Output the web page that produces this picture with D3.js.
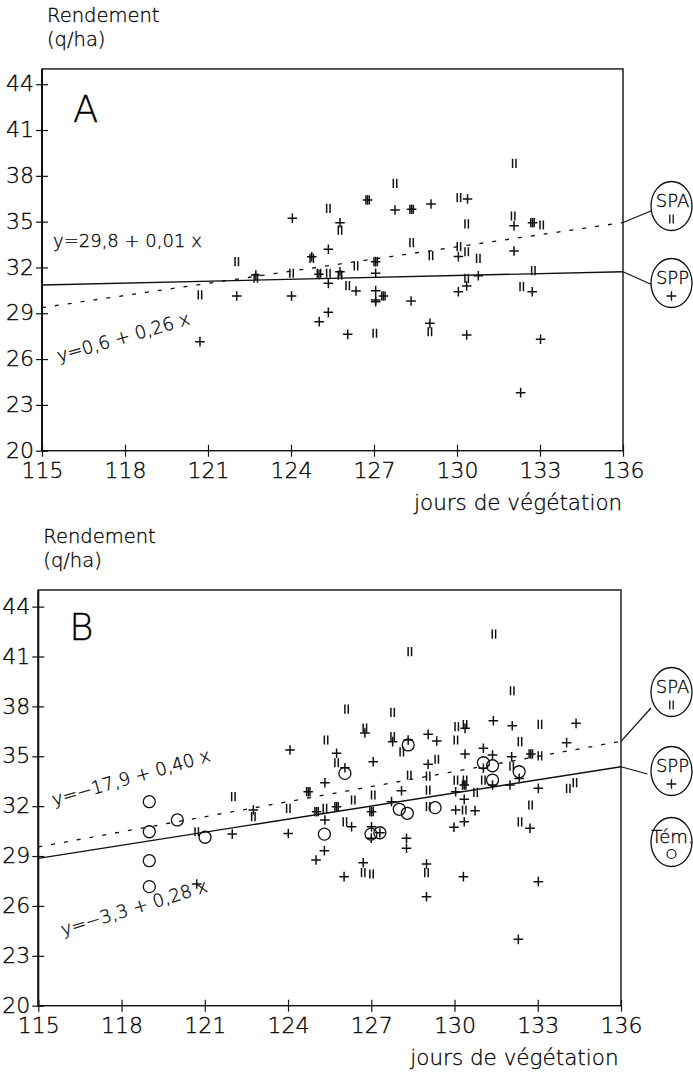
<!DOCTYPE html>
<html>
<head>
<meta charset="utf-8">
<script src="https://cdn.jsdelivr.net/npm/d3@7/dist/d3.min.js"></script>
<style>
  html, body { margin: 0; padding: 0; background: #fff; }
  svg { display: block; }
  text { font-family: "DejaVu Sans", sans-serif; font-weight: 200; fill: #000; stroke: #000; stroke-width: 0.3px; }
</style>
</head>
<body>
<svg id="chart" width="693" height="1073"></svg>
<script>
/* global d3 */

// axis ticks, shared by both panels
var xTicks = [115, 118, 121, 124, 127, 130, 133, 136];
var yTicks = [20, 23, 26, 29, 32, 35, 38, 41, 44];

// panel A : SPP (+) and SPA (II), [jours, rendement]
var aSpp = [
  [124.05, 35.22], [126.77, 36.42], [127.76, 35.76], [128.36, 35.81], [129.06, 36.16],
  [130.38, 36.48], [125.77, 34.93], [132.06, 34.73], [132.73, 34.93], [125.35, 33.19],
  [130.05, 32.71], [132.06, 33.08], [124.75, 32.7], [127.06, 32.38], [125.77, 31.72],
  [125.35, 30.96], [125.01, 31.55], [127.06, 31.62], [130.35, 30.79], [130.77, 31.46],
  [126.35, 30.46], [127.06, 30.48], [127.34, 30.13], [127.06, 29.87], [127.06, 29.75],
  [128.34, 29.8], [130.05, 30.41], [132.72, 30.41], [125.35, 29.06], [125.02, 28.45],
  [129.02, 28.34], [126.05, 27.62], [130.35, 27.58], [133.02, 27.3], [132.3, 23.8],
  [122.73, 31.5], [122.04, 30.13], [124.02, 30.13], [120.71, 27.14]
];
var aSpa = [
  [132.07, 38.82], [127.76, 37.51], [126.77, 36.42], [125.35, 35.87], [128.36, 35.81],
  [130.07, 36.57], [125.77, 34.45], [132.03, 35.37], [132.73, 34.93], [133.06, 34.78],
  [130.35, 34.85], [128.36, 33.62], [129.06, 32.77], [130.07, 33.36], [130.35, 33.03],
  [130.77, 32.6], [124.75, 32.6], [126.35, 32.11], [127.06, 32.38], [125.77, 31.5],
  [125.35, 31.62], [125.01, 31.62], [130.35, 31.29], [132.76, 31.79], [126.05, 30.81],
  [132.34, 30.74], [129.02, 27.79], [127.03, 27.69], [122.04, 32.38], [122.73, 31.3],
  [124.02, 31.62], [120.71, 30.2], [127.34, 30.13]
];

// panel B : SPP (+), SPA (II), Tém. (o)
var bSpp = [
  [131.4, 37.14], [130.38, 36.68], [132.08, 36.84], [134.38, 36.98], [126.77, 36.4],
  [127.77, 35.88], [128.33, 35.98], [129.05, 36.32], [129.36, 35.92], [134.04, 35.82],
  [125.75, 35.18], [126.05, 34.31], [127.07, 34.67], [129.05, 34.52], [130.38, 35.14],
  [131.04, 35.48], [131.37, 35.08], [132.06, 34.97], [132.75, 35.14], [131.04, 34.28],
  [132.33, 33.67], [131.37, 33.27], [124.07, 35.38], [125.33, 33.41], [124.73, 32.87],
  [127.01, 31.67], [128.09, 32.93], [127.73, 32.27], [130.04, 32.87], [130.35, 33.27],
  [130.35, 32.41], [130.74, 31.73], [130.04, 31.77], [130.35, 31.06], [129.98, 30.73],
  [127.01, 30.76], [127.0, 30.07], [127.31, 30.4], [128.27, 30.07], [128.27, 29.47],
  [125.33, 31.17], [125.75, 31.97], [126.29, 30.76], [125.31, 29.32], [125.01, 28.76],
  [126.71, 28.6], [126.02, 27.76], [128.99, 28.52], [128.99, 26.55], [130.32, 27.76],
  [133.02, 27.46], [132.3, 23.99], [133.02, 33.07], [132.72, 30.67], [132.0, 33.27],
  [122.75, 31.77], [121.99, 30.32], [124.01, 30.36], [120.71, 27.32], [125.03, 31.67]
];
var bSpa = [
  [131.42, 42.35], [128.39, 41.29], [132.08, 38.94], [126.11, 37.84], [127.77, 37.64],
  [130.08, 36.78], [130.38, 36.9], [133.08, 36.92], [125.37, 35.98], [126.77, 36.7],
  [127.77, 36.18], [130.05, 35.98], [128.1, 35.27], [125.75, 34.61], [129.36, 34.82],
  [132.06, 34.41], [132.36, 35.88], [132.75, 35.14], [133.08, 35.02], [131.04, 33.57],
  [128.37, 33.87], [129.05, 33.81], [130.05, 33.57], [130.38, 33.57], [126.35, 32.37],
  [127.07, 32.67], [129.05, 32.97], [130.35, 33.27], [130.76, 32.83], [130.35, 31.77],
  [129.05, 31.97], [127.01, 31.67], [125.03, 31.67], [125.33, 31.87], [125.75, 31.97],
  [126.05, 31.06], [126.71, 28.0], [127.01, 27.92], [128.99, 28.0], [134.1, 33.07],
  [134.34, 33.41], [132.74, 32.07], [132.36, 31.06], [122.03, 32.57], [122.75, 31.37],
  [124.01, 31.87], [120.71, 30.46], [124.73, 32.87]
];
var bTem = [
  [128.33, 35.68], [126.05, 33.97], [131.04, 34.61], [131.37, 34.43], [132.33, 34.07],
  [131.37, 33.57], [129.3, 31.91], [128.01, 31.81], [128.3, 31.57], [126.99, 30.32],
  [127.31, 30.4], [125.31, 30.32], [119.0, 32.27], [119.0, 30.46], [119.0, 28.72],
  [119.0, 27.16], [120.01, 31.17], [121.01, 30.13]
];

// regression lines, values read at x = 115 and x = 136
var aSolid = [[115, 30.85], [136, 31.72]];
var aDashed = [[115, 29.37], [136, 34.94]];
var bSolid = [[115, 28.86], [136, 34.37]];
var bDashed = [[115, 29.55], [136, 35.9]];

var svg = d3.select('#chart');

svg.append('rect')
  .attr('width', 693)
  .attr('height', 1073)
  .attr('fill', '#fff');


function markerPath(kind) {
  if (kind === 'plus') {
    return 'M-4.8,0H4.8M0,-4.8V4.8';
  }
  // double bar "II"
  return 'M-1.7,-4.6V4.6M1.7,-4.6V4.6';
}


function drawPanel(conf) {
  var g = svg.append('g');

  var x = d3.scaleLinear().domain([115, 136]).range([conf.left, conf.right]);
  var y = d3.scaleLinear().domain([20, 45]).range([conf.bottom, conf.top]);

  // frame
  g.append('rect')
    .attr('x', conf.left)
    .attr('y', y(45))
    .attr('width', conf.right - conf.left)
    .attr('height', conf.bottom - y(45))
    .attr('fill', 'none')
    .attr('stroke', '#111')
    .attr('stroke-width', 1.4);

  g.append('line')
    .attr('x1', conf.left).attr('x2', conf.left)
    .attr('y1', y(45)).attr('y2', conf.bottom)
    .attr('stroke', '#111')
    .attr('stroke-width', 2);

  // axes with ticks crossing the frame
  var xAxis = d3.axisBottom(x).tickValues(xTicks).tickSize(12).tickPadding(4);
  var gx = g.append('g')
    .attr('transform', 'translate(0,' + (conf.bottom - 6) + ')')
    .call(xAxis);
  gx.select('.domain').remove();
  gx.selectAll('line').attr('stroke', '#111').attr('stroke-width', 1.2);
  gx.selectAll('text')
    .attr('y', 33)
    .attr('dy', 0)
    .style('font-size', '22px')
    .style('font-family', '"DejaVu Sans", sans-serif')
    .style('font-weight', 200)
    .attr('fill', '#000');

  var yAxis = d3.axisLeft(y).tickValues(yTicks).tickSize(12).tickPadding(2);
  var gy = g.append('g')
    .attr('transform', 'translate(' + (conf.left + 6) + ',0)')
    .call(yAxis);
  gy.select('.domain').remove();
  gy.selectAll('line').attr('stroke', '#111').attr('stroke-width', 1.2);
  gy.selectAll('text')
    .attr('x', -14)
    .attr('dy', '0.3em')
    .style('font-size', '22px')
    .style('font-family', '"DejaVu Sans", sans-serif')
    .style('font-weight', 200)
    .attr('fill', '#000');

  // axis titles
  g.append('text')
    .attr('x', conf.left + 5)
    .attr('y', conf.titleY)
    .style('font-size', '19.5px')
    .text('Rendement');
  g.append('text')
    .attr('x', conf.left + 5)
    .attr('y', conf.titleY + 24)
    .style('font-size', '19.5px')
    .text('(q/ha)');

  g.append('text')
    .attr('x', conf.left + 372)
    .attr('y', conf.bottom + 59)
    .style('font-size', '21.5px')
    .text('jours de végétation');

  // panel letter
  g.append('text')
    .attr('x', conf.left + 31)
    .attr('y', conf.letterY)
    .style('font-size', '37px')
    .text(conf.letter);

  // regression lines
  var line = d3.line()
    .x(function (d) { return x(d[0]); })
    .y(function (d) { return y(d[1]); });

  g.append('path')
    .attr('d', line(conf.solid))
    .attr('fill', 'none')
    .attr('stroke', '#111')
    .attr('stroke-width', 1.4);

  g.append('path')
    .attr('d', line(conf.dashed))
    .attr('fill', 'none')
    .attr('stroke', '#111')
    .attr('stroke-width', 1.3)
    .attr('stroke-dasharray', '4,9');

  // equation labels
  conf.equations.forEach(function (e) {
    g.append('text')
      .attr('transform', 'translate(' + e.x + ',' + e.y + ') rotate(' + e.rot + ')')
      .style('font-size', '18px')
      .text(e.text);
  });

  // markers
  conf.series.forEach(function (s) {
    var sel = g.append('g').selectAll('.m')
      .data(s.data)
      .enter();

    if (s.kind === 'circle') {
      sel.append('circle')
        .attr('cx', function (d) { return x(d[0]); })
        .attr('cy', function (d) { return y(d[1]); })
        .attr('r', 6)
        .attr('fill', 'none')
        .attr('stroke', '#111')
        .attr('stroke-width', 1.3);
    } else {
      sel.append('path')
        .attr('transform', function (d) {
          return 'translate(' + x(d[0]) + ',' + y(d[1]) + ')';
        })
        .attr('d', markerPath(s.kind))
        .attr('fill', 'none')
        .attr('stroke', '#111')
        .attr('stroke-width', 1.5);
    }
  });

  // legend bubbles, with leader lines from the line ends
  conf.legend.forEach(function (b) {
    if (b.from) {
      g.append('path')
        .attr('d', 'M' + conf.right + ',' + y(b.from[1]) + 'L' + b.lx + ',' + b.ly)
        .attr('fill', 'none')
        .attr('stroke', '#111')
        .attr('stroke-width', 1.2);
    }

    g.append('ellipse')
      .attr('cx', b.cx)
      .attr('cy', b.cy)
      .attr('rx', 20.5)
      .attr('ry', 24.5)
      .attr('fill', '#fff')
      .attr('stroke', '#111')
      .attr('stroke-width', 1.3);

    g.append('text')
      .attr('x', b.cx + 1)
      .attr('y', b.cy + 1)
      .attr('text-anchor', 'middle')
      .style('font-size', '18px')
      .text(b.label);

    if (b.kind === 'circle') {
      g.append('circle')
        .attr('cx', b.cx)
        .attr('cy', b.cy + 12)
        .attr('r', 4.5)
        .attr('fill', 'none')
        .attr('stroke', '#111')
        .attr('stroke-width', 1.2);
    } else {
      g.append('path')
        .attr('transform', 'translate(' + b.cx + ',' + (b.cy + 13) + ')')
        .attr('d', markerPath(b.kind))
        .attr('fill', 'none')
        .attr('stroke', '#111')
        .attr('stroke-width', 1.3);
    }
  });
}


drawPanel({
  left: 42, right: 623, top: 68.95, bottom: 450.7,
  titleY: 21.5, letterY: 121.5, letter: 'A',
  solid: aSolid, dashed: aDashed,
  equations: [
    { text: 'y=29,8 + 0,01 x', x: 53, y: 247, rot: 0 },
    { text: 'y=0,6 + 0,26 x', x: 59, y: 362, rot: -16 }
  ],
  series: [
    { kind: 'plus', data: aSpp },
    { kind: 'bars', data: aSpa }
  ],
  legend: [
    { label: 'SPA', kind: 'bars', from: aDashed[1], cx: 671.5, cy: 206, lx: 651, ly: 211 },
    { label: 'SPP', kind: 'plus', from: aSolid[1], cx: 671.5, cy: 283, lx: 652.5, ly: 285 }
  ]
});

drawPanel({
  left: 38.3, right: 621, top: 590, bottom: 1005.7,
  titleY: 543, letterY: 640, letter: 'B',
  solid: bSolid, dashed: bDashed,
  equations: [
    { text: 'y=−17,9 + 0,40 x', x: 54, y: 806, rot: -16 },
    { text: 'y=−3,3 + 0,28 x', x: 63, y: 936, rot: -17 }
  ],
  series: [
    { kind: 'plus', data: bSpp },
    { kind: 'bars', data: bSpa },
    { kind: 'circle', data: bTem }
  ],
  legend: [
    { label: 'SPA', kind: 'bars', from: bDashed[1], cx: 671.5, cy: 692, lx: 651, ly: 708 },
    { label: 'SPP', kind: 'plus', from: bSolid[1], cx: 671.5, cy: 771, lx: 647.5, ly: 774 },
    { label: 'Tém.', kind: 'circle', from: null, cx: 671.5, cy: 842 }
  ]
});
</script>
</body>
</html>
